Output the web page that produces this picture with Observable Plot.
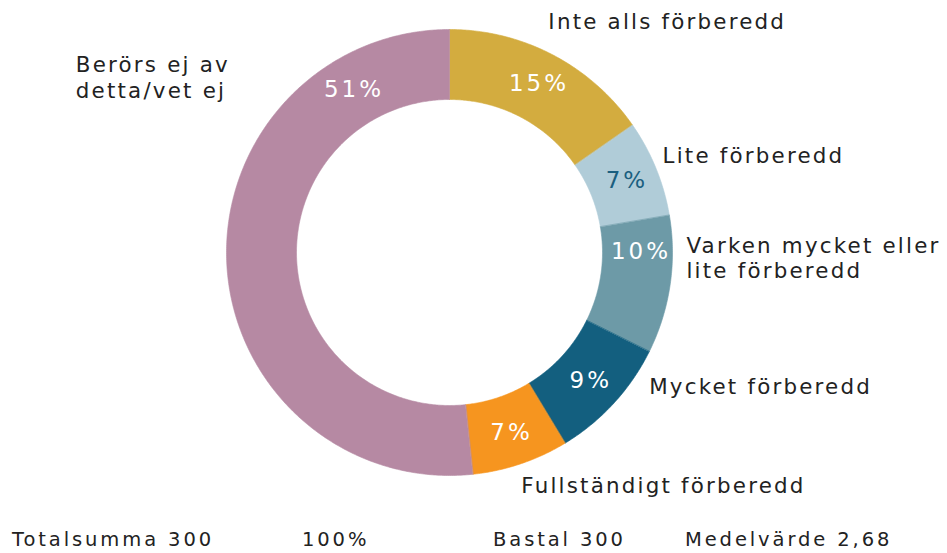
<!DOCTYPE html>
<html>
<head>
<meta charset="utf-8">
<script src="https://cdn.jsdelivr.net/npm/d3@7"></script>
<script src="https://cdn.jsdelivr.net/npm/@observablehq/plot@0.6"></script>
<style>
  html, body { margin: 0; padding: 0; background: #fff; }
  #wrap { position: relative; width: 947px; height: 553px; overflow: hidden; }
  #foot span { position: absolute; top: 528px; font-family: "DejaVu Sans", sans-serif; font-size: 19.5px; line-height: 24px; letter-spacing: 2.9px; color: #222; white-space: nowrap; }
</style>
</head>
<body>
<div id="wrap"><div id="chart"></div><div id="foot"></div></div>
<script>
// ---- data ----
const categories = [
  "Inte alls förberedd",
  "Lite förberedd",
  "Varken mycket eller\nlite förberedd",
  "Mycket förberedd",
  "Fullständigt förberedd",
  "Berörs ej av\ndetta/vet ej"
];
const counts = [46, 21, 30, 27, 21, 155];
const pctLabels = ["15%", "7%", "10%", "9%", "7%", "51%"];
const colors = ["#D3AC3F", "#B0CCD8", "#6D9AA7", "#135F7F", "#F6951F", "#B689A3"];
const footerTexts = ["Totalsumma 300", "100%", "Bastal 300", "Medelvärde 2,68"];

// ---- layout (not data) ----
const W = 947, H = 515, CX = 449, CY = 252;
const R_OUT = 223, R_IN = 153, R_LABEL = 190;
const deg = Math.PI / 180;
// angle overrides for percentage labels (degrees, clockwise from top)
const pctAngleOverride = {2: 89.7, 5: 329.3};
const pctDark = new Set([1]);
// category label anchors, polar from centre: [angleDeg, radius]
const catAnchor = [[23.1, 252], [65.3, 234.5], [91.2, 237], [123.7, 240], [162.8, 243], [295.2, 413]];

const arcs = d3.pie().sort(null).value(d => d)(counts);

const polyRows = [];
arcs.forEach((a, i) => {
  const n = Math.max(8, Math.ceil((a.endAngle - a.startAngle) / deg * 2));
  for (let k = 0; k <= n; k++) {
    const t = a.startAngle + (a.endAngle - a.startAngle) * k / n;
    polyRows.push({cat: categories[i], x: R_OUT * Math.sin(t), y: -R_OUT * Math.cos(t)});
  }
  for (let k = n; k >= 0; k--) {
    const t = a.startAngle + (a.endAngle - a.startAngle) * k / n;
    polyRows.push({cat: categories[i], x: R_IN * Math.sin(t), y: -R_IN * Math.cos(t)});
  }
});

const pctRows = arcs.map((a, i) => {
  const ang = (i in pctAngleOverride) ? pctAngleOverride[i] * deg : (a.startAngle + a.endAngle) / 2;
  return {i, text: pctLabels[i], x: R_LABEL * Math.sin(ang), y: -R_LABEL * Math.cos(ang)};
});

const catRows = categories.map((c, i) => {
  const [ad, r] = catAnchor[i];
  return {text: c, x: r * Math.sin(ad * deg), y: -r * Math.cos(ad * deg)};
});

const chart = Plot.plot({
  width: W,
  height: H,
  margin: 0,
  x: {domain: [-CX, W - CX], range: [0, W], axis: null},
  y: {domain: [-CY, H - CY], range: [0, H], axis: null},
  color: {domain: categories, range: colors},
  style: {background: "#fff"},
  marks: [
    Plot.line(polyRows, {x: "x", y: "y", z: "cat", fill: "cat", stroke: "cat", strokeWidth: 0.6, curve: "linear-closed"}),
    Plot.text(pctRows.filter(d => !pctDark.has(d.i)), {x: "x", y: "y", text: "text", fill: "#ffffff", fontSize: 23, dx: 1.5, fontFamily: "DejaVu Sans"}),
    Plot.text(pctRows.filter(d => pctDark.has(d.i)), {x: "x", y: "y", text: "text", fill: "#1b5f7f", fontSize: 23, dx: 1.5, fontFamily: "DejaVu Sans"}),
    Plot.text(catRows, {x: "x", y: "y", text: "text", textAnchor: "start", lineAnchor: "middle", lineHeight: 1.19, fill: "#222", fontSize: 21.4, fontFamily: "DejaVu Sans"})
  ]
});
d3.select(chart).selectAll("text").each(function() {
  const isPct = /%$/.test(this.textContent);
  this.style.letterSpacing = isPct ? "3px" : "2.2px";
});
document.getElementById("chart").appendChild(chart);

const footX = [12, 302, 493, 685];
const foot = document.getElementById("foot");
footerTexts.forEach((t, i) => {
  const s = document.createElement("span");
  s.textContent = t;
  s.style.left = footX[i] + "px";
  foot.appendChild(s);
});
</script>
</body>
</html>
